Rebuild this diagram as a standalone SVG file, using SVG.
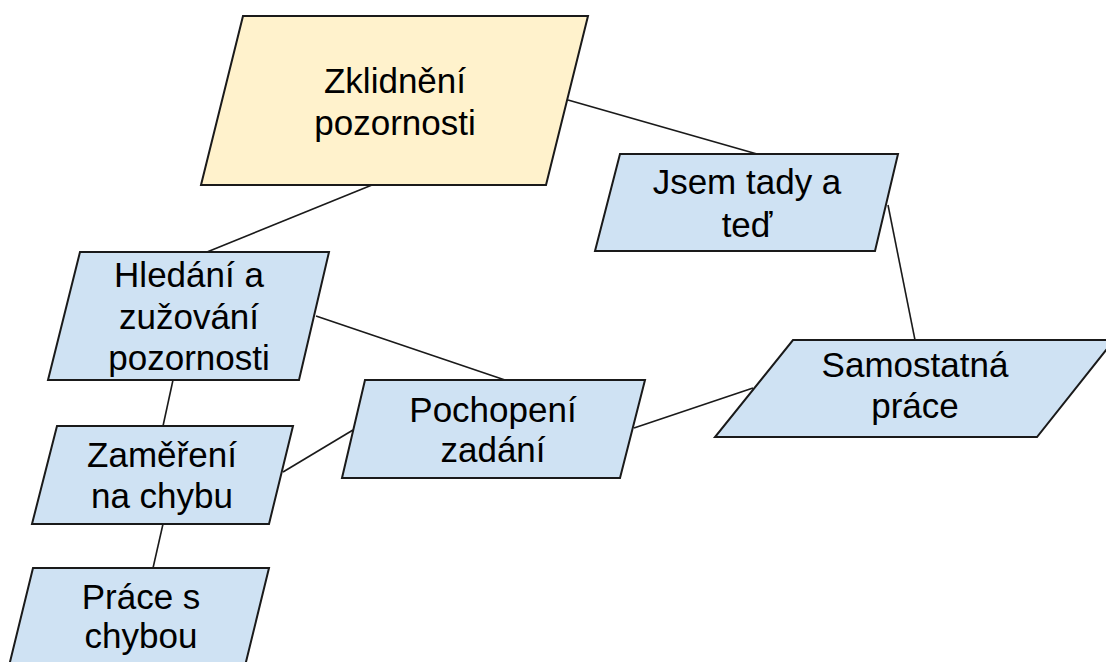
<svg xmlns="http://www.w3.org/2000/svg" width="1106" height="662" viewBox="0 0 1106 662">
<style>
.n{stroke:#1a1a1a;stroke-width:2;stroke-linejoin:miter}
.y{fill:#fff2cc}
.b{fill:#cfe2f3}
.t{font-family:"Liberation Sans",Arial,sans-serif;font-size:35px;fill:#000;text-anchor:middle}
.c{stroke:#1a1a1a;stroke-width:1.6;fill:none}
</style>
<rect width="1106" height="662" fill="#fff"/>
<g id="connectors">
<line class="c" x1="568" y1="100" x2="757" y2="154"/>
<line class="c" x1="372" y1="185" x2="207" y2="252"/>
<line class="c" x1="888" y1="205" x2="915" y2="340"/>
<line class="c" x1="316" y1="316" x2="505" y2="380"/>
<line class="c" x1="173" y1="380" x2="163" y2="426"/>
<line class="c" x1="283" y1="472" x2="353" y2="430"/>
<line class="c" x1="634" y1="428" x2="753" y2="388"/>
<line class="c" x1="163" y1="524" x2="153" y2="568"/>
</g>
<g id="n1">
<polygon class="n y" points="243,16 588,16 546,185 201,185"/>
<text class="t" x="395" y="93">Zklidnění</text>
<text class="t" x="395" y="135">pozornosti</text>
</g>
<g id="n2">
<polygon class="n b" points="620,154 898,154 875,251 595,251"/>
<text class="t" x="747" y="193.5">Jsem tady a</text>
<text class="t" x="747" y="236.5">teď</text>
</g>
<g id="n3">
<polygon class="n b" points="80,252 329,252 299,380 48,380"/>
<text class="t" x="189" y="287">Hledání a</text>
<text class="t" x="189" y="329">zužování</text>
<text class="t" x="189" y="370">pozornosti</text>
</g>
<g id="n4">
<polygon class="n b" points="365,380 645,380 620,478 342,478"/>
<text class="t" x="493" y="421.5">Pochopení</text>
<text class="t" x="493" y="462">zadání</text>
</g>
<g id="n5">
<polygon class="n b" points="793,340 1114,340 1037,437 715,437"/>
<text class="t" x="915" y="377">Samostatná</text>
<text class="t" x="915" y="417.5">práce</text>
</g>
<g id="n6">
<polygon class="n b" points="57,426 293,426 269,524 32,524"/>
<text class="t" x="162" y="467">Zaměření</text>
<text class="t" x="162" y="507.5">na chybu</text>
</g>
<g id="n7">
<polygon class="n b" points="33,568 269,568 245,666 9,666"/>
<text class="t" x="141" y="608.5">Práce s</text>
<text class="t" x="141" y="648">chybou</text>
</g>
</svg>
